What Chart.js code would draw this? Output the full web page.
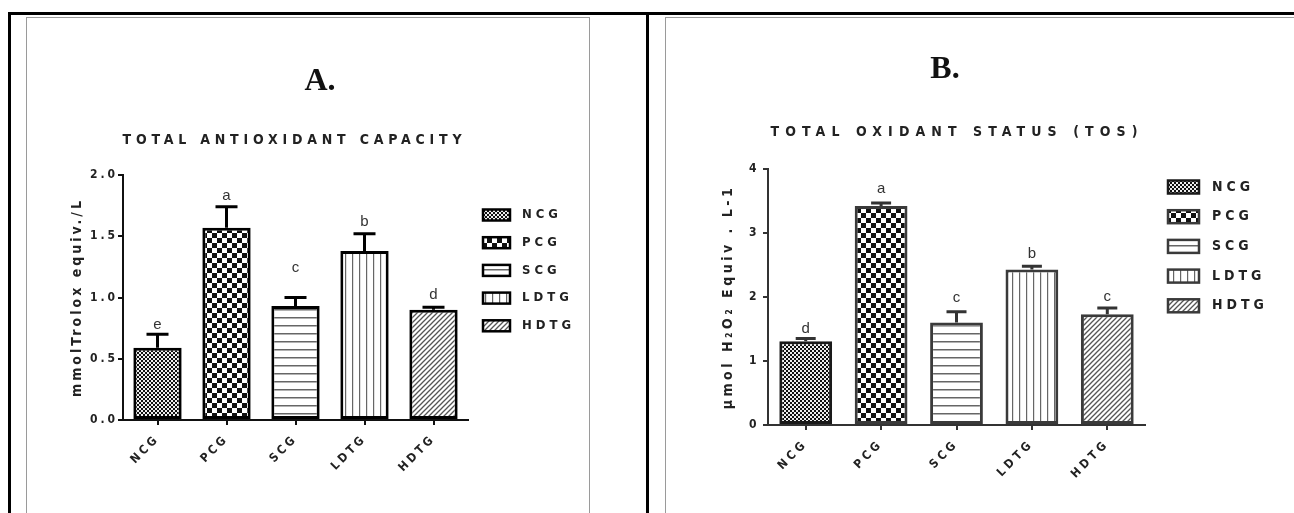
<!DOCTYPE html>
<html>
<head>
<meta charset="utf-8">
<script src="https://cdn.jsdelivr.net/npm/chart.js@4"></script>
<style>
  body { margin: 0; background: #fff; width: 1294px; height: 513px; overflow: hidden; position: relative; }
  .linha { position: absolute; background: #000; }
  .caixa { position: absolute; border: 1px solid #9a9a9a; border-bottom: none; }
  canvas { position: absolute; }
</style>
</head>
<body>
<div class="linha" style="left:8px;top:12px;width:1286px;height:3px"></div>
<div class="linha" style="left:8px;top:12px;width:3px;height:501px"></div>
<div class="linha" style="left:646px;top:12px;width:3px;height:501px"></div>
<div class="caixa" style="left:26px;top:17px;width:562px;height:500px"></div>
<div class="caixa" style="left:665px;top:17px;width:640px;height:500px"></div>
<canvas id="graficoA" width="560" height="495" style="left:27px;top:18px"></canvas>
<canvas id="graficoB" width="628" height="495" style="left:666px;top:18px"></canvas>
<script>
// Dados
var grupos = ['NCG', 'PCG', 'SCG', 'LDTG', 'HDTG'];

// A. Total antioxidant capacity
var tacMedias = [0.59, 1.57, 0.93, 1.38, 0.90];
var tacErros = [0.11, 0.17, 0.07, 0.14, 0.02];
var tacLetras = ['e', 'a', 'c', 'b', 'd'];
var tacAlturaLetras = [0.78, 1.83, 1.24, 1.62, 1.02];
var tacTicks = [0, 0.5, 1.0, 1.5, 2.0];

// B. Total oxidant status
var tosMedias = [1.31, 3.42, 1.60, 2.43, 1.73];
var tosErros = [0.04, 0.05, 0.17, 0.05, 0.10];
var tosLetras = ['d', 'a', 'c', 'b', 'c'];
var tosAlturaLetras = [1.50, 3.69, 1.99, 2.68, 2.00];
var tosTicks = [0, 1, 2, 3, 4];

var FONTE = '"DejaVu Sans Condensed", "Liberation Sans Narrow", "Liberation Sans"';

// Cria os padrões de preenchimento das barras
function criarPadrao(ctx, tipo, cor) {
    var c = document.createElement('canvas');
    var g;
    if (tipo === 'xadrezFino') {
        c.width = 4; c.height = 4; g = c.getContext('2d');
        g.fillStyle = '#eee'; g.fillRect(0, 0, 4, 4);
        g.fillStyle = cor; g.fillRect(0, 0, 2, 2); g.fillRect(2, 2, 2, 2);
    } else if (tipo === 'xadrez') {
        c.width = 10; c.height = 10; g = c.getContext('2d');
        g.fillStyle = '#fff'; g.fillRect(0, 0, 10, 10);
        g.fillStyle = cor; g.fillRect(0, 0, 5, 5); g.fillRect(5, 5, 5, 5);
    } else if (tipo === 'horizontal') {
        c.width = 8; c.height = 8; g = c.getContext('2d');
        g.fillStyle = '#fff'; g.fillRect(0, 0, 8, 8);
        g.fillStyle = cor; g.fillRect(0, 3, 8, 1.5);
    } else if (tipo === 'vertical') {
        c.width = 7; c.height = 7; g = c.getContext('2d');
        g.fillStyle = '#fff'; g.fillRect(0, 0, 7, 7);
        g.fillStyle = cor; g.fillRect(3, 0, 1.2, 7);
    } else {
        var s = 5;
        c.width = s; c.height = s; g = c.getContext('2d');
        g.fillStyle = '#fff'; g.fillRect(0, 0, s, s);
        g.strokeStyle = cor; g.lineWidth = 1.3;
        g.beginPath();
        g.moveTo(0, s); g.lineTo(s, 0);
        g.moveTo(-1, 1); g.lineTo(1, -1);
        g.moveTo(s - 1, s + 1); g.lineTo(s + 1, s - 1);
        g.stroke();
    }
    return ctx.createPattern(c, 'repeat');
}

// Escreve texto espaçado para ocupar uma largura
function textoEspacado(ctx, texto, xCentro, y, largura) {
    ctx.letterSpacing = '0px';
    var w = ctx.measureText(texto).width;
    var esp = (largura - w) / (texto.length - 1);
    ctx.letterSpacing = esp + 'px';
    ctx.textAlign = 'left';
    ctx.fillText(texto, xCentro - largura / 2, y);
}

function criarGrafico(idCanvas, cfg) {
    var ctx = document.getElementById(idCanvas).getContext('2d');
    var padroes = [
        criarPadrao(ctx, 'xadrezFino', '#111'),
        criarPadrao(ctx, 'xadrez', '#111'),
        criarPadrao(ctx, 'horizontal', '#666'),
        criarPadrao(ctx, 'vertical', '#666'),
        criarPadrao(ctx, 'diagonal', '#555')
    ];
    var fonteEixo = { family: FONTE, size: 12, weight: 'bold' };

    // espaçamento das letras do texto do Chart.js
    var pluginEspaco = {
        id: 'espaco',
        beforeDraw: function (chart) { chart.ctx.letterSpacing = cfg.espaco; }
    };

    // barras de erro (média + EPM) e letras
    var pluginErros = {
        id: 'barrasErro',
        afterDatasetsDraw: function (chart) {
            var c = chart.ctx, y = chart.scales.y, meta = chart.getDatasetMeta(0);
            c.save();
            c.strokeStyle = cfg.corErro; c.lineWidth = 3;
            cfg.erros.forEach(function (e, i) {
                var x = meta.data[i].x;
                var yTopo = y.getPixelForValue(cfg.medias[i]);
                var yErro = y.getPixelForValue(cfg.medias[i] + e);
                c.beginPath();
                c.moveTo(x, yTopo); c.lineTo(x, yErro);
                c.moveTo(x - cfg.capa, yErro); c.lineTo(x + cfg.capa, yErro);
                c.stroke();
            });
            c.letterSpacing = '0px';
            c.fillStyle = '#333';
            c.font = '15px "Liberation Sans Narrow", "Liberation Sans"';
            c.textAlign = 'center'; c.textBaseline = 'middle';
            cfg.letras.forEach(function (l, i) {
                c.fillText(l, meta.data[i].x, y.getPixelForValue(cfg.alturaLetras[i]));
            });
            c.restore();
        }
    };

    // cabeçalho e legenda
    var pluginExtras = {
        id: 'extras',
        afterDraw: function (chart) {
            var c = chart.ctx;
            c.save();
            c.fillStyle = '#111';
            c.letterSpacing = '0px';
            c.font = 'bold 32px "Liberation Serif"';
            c.textAlign = 'center'; c.textBaseline = 'middle';
            c.fillText(cfg.letraPainel, cfg.painelX, cfg.painelY);
            c.fillStyle = '#222';
            c.font = 'bold 14px ' + FONTE;
            textoEspacado(c, cfg.titulo, cfg.tituloX, cfg.tituloY, cfg.tituloLargura);

            var L = cfg.legenda;
            grupos.forEach(function (g, i) {
                var yc = L.y0 + i * L.passo;
                c.fillStyle = padroes[i];
                c.fillRect(L.x, yc - L.alt / 2, L.larg, L.alt);
                c.strokeStyle = cfg.bordas[i]; c.lineWidth = 2.5;
                c.strokeRect(L.x, yc - L.alt / 2, L.larg, L.alt);
                c.fillStyle = '#222';
                c.font = L.fonte;
                c.letterSpacing = L.espaco;
                c.textAlign = 'left';
                c.fillText(g, L.xTexto, yc);
            });
            c.restore();
        }
    };

    new Chart(ctx, {
        type: 'bar',
        data: {
            labels: grupos,
            datasets: [{
                data: cfg.medias,
                backgroundColor: padroes,
                borderColor: cfg.bordas,
                borderWidth: 3,
                borderSkipped: false,
                categoryPercentage: 1,
                barPercentage: 0.7
            }]
        },
        options: {
            responsive: false,
            animation: false,
            layout: { padding: cfg.margens },
            plugins: { legend: { display: false }, tooltip: { enabled: false } },
            scales: {
                x: {
                    grid: { offset: false, drawOnChartArea: false, tickLength: 5, color: cfg.corEixo, lineWidth: 2 },
                    border: { color: cfg.corEixo, width: 2 },
                    ticks: { maxRotation: 45, minRotation: 45, autoSkip: false, padding: 7, color: '#222', font: fonteEixo },
                    afterFit: function (s) { s.height = cfg.alturaX; }
                },
                y: {
                    min: 0,
                    max: cfg.ticks[cfg.ticks.length - 1],
                    afterBuildTicks: function (s) { s.ticks = cfg.ticks.map(function (v) { return { value: v }; }); },
                    grid: { drawOnChartArea: false, tickLength: 5, color: cfg.corEixo, lineWidth: 2 },
                    border: { color: cfg.corEixo, width: 2 },
                    ticks: { padding: cfg.paddingY, color: '#222', font: fonteEixo, callback: cfg.formato },
                    title: { display: true, text: cfg.tituloEixo, color: '#222', font: { family: FONTE, size: 14, weight: 'bold' } },
                    afterFit: function (s) { s.width = cfg.larguraY; }
                }
            }
        },
        plugins: [pluginEspaco, pluginErros, pluginExtras]
    });
}

criarGrafico('graficoA', {
    medias: tacMedias, erros: tacErros, letras: tacLetras, alturaLetras: tacAlturaLetras, ticks: tacTicks,
    formato: function (v) { return Number(v).toFixed(1); },
    bordas: ['#000', '#000', '#000', '#000', '#000'],
    corEixo: '#111', corErro: '#000', capa: 11, espaco: '3px',
    margens: { left: 38, top: 157, right: 119, bottom: 0 },
    larguraY: 58, alturaX: 93, paddingY: 0,
    tituloEixo: 'mmolTrolox equiv./L',
    letraPainel: 'A.', painelX: 293, painelY: 64,
    titulo: 'TOTAL ANTIOXIDANT CAPACITY', tituloX: 265, tituloY: 122, tituloLargura: 339,
    legenda: { x: 456, y0: 197, passo: 27.7, larg: 27, alt: 11, xTexto: 495, fonte: 'bold 13px ' + FONTE, espaco: '4px' }
});

criarGrafico('graficoB', {
    medias: tosMedias, erros: tosErros, letras: tosLetras, alturaLetras: tosAlturaLetras, ticks: tosTicks,
    formato: function (v) { return String(v); },
    bordas: ['#1a1a1a', '#3a3a3a', '#3a3a3a', '#3a3a3a', '#3a3a3a'],
    corEixo: '#333', corErro: '#333', capa: 10, espaco: '3.5px',
    margens: { left: 50, top: 151, right: 149, bottom: 0 },
    larguraY: 52, alturaX: 88, paddingY: 3,
    tituloEixo: 'µmol H₂O₂ Equiv . L-1',
    letraPainel: 'B.', painelX: 279, painelY: 52,
    titulo: 'TOTAL OXIDANT STATUS (TOS)', tituloX: 288, tituloY: 114, tituloLargura: 367,
    legenda: { x: 502, y0: 169, passo: 29.7, larg: 31, alt: 13, xTexto: 546, fonte: 'bold 14px ' + FONTE, espaco: '4px' }
});
</script>
</body>
</html>
